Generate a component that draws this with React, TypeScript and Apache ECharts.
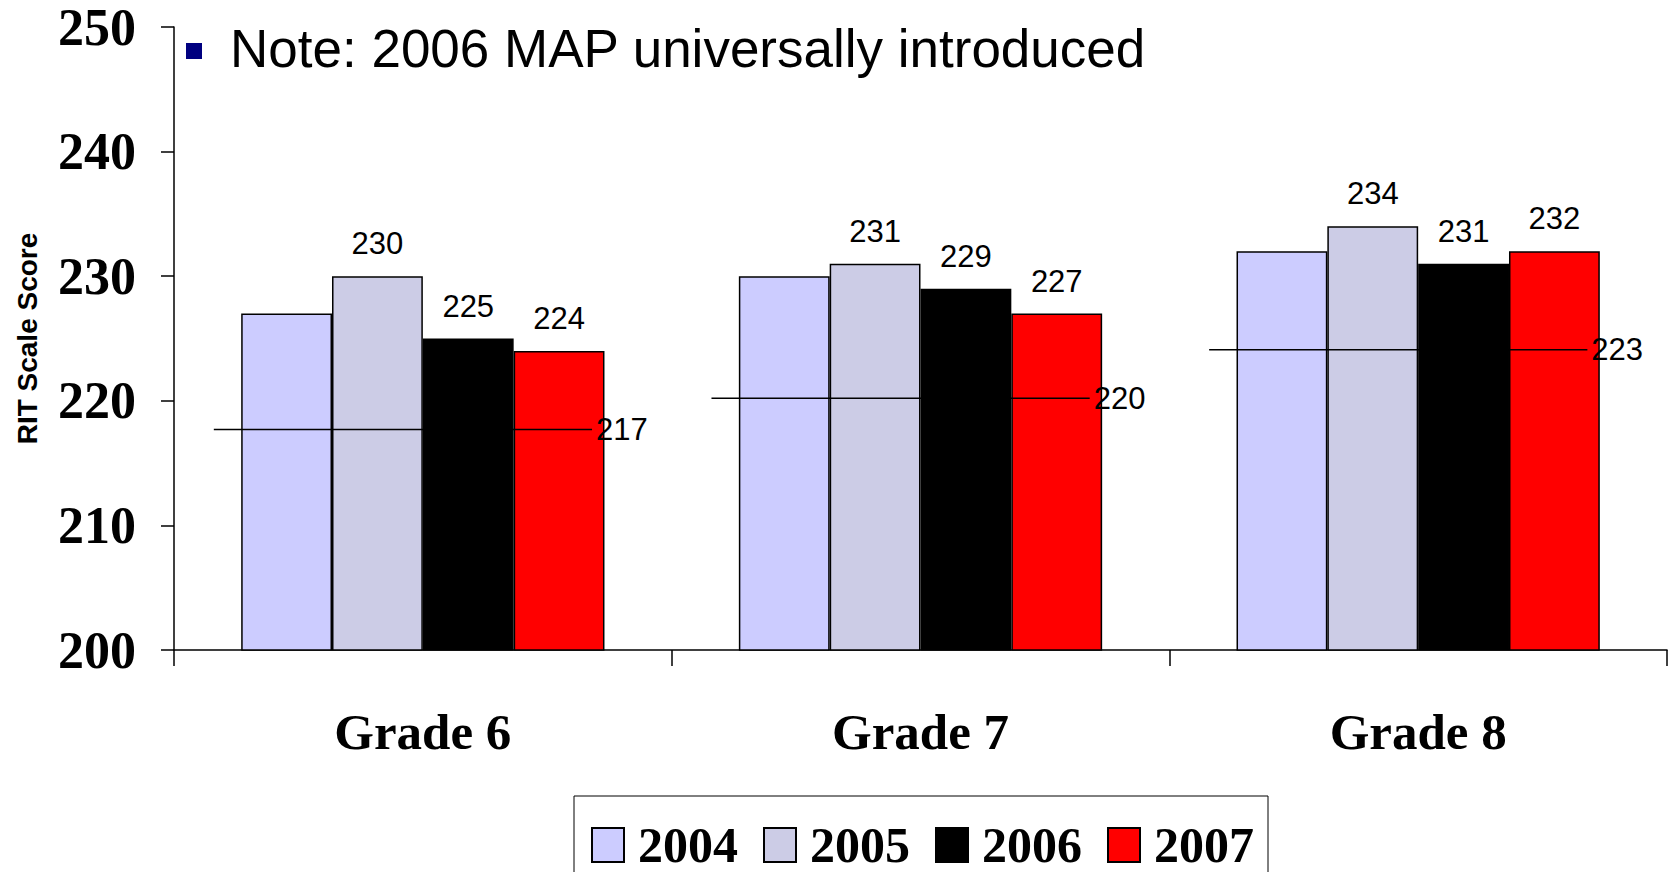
import React, { useEffect, useRef } from "react";
import * as echarts from "echarts";

const categories = ["Grade 6", "Grade 7", "Grade 8"];
const years = ["2004", "2005", "2006", "2007"];
const scores2004 = [227, 230, 232];
const scores2005 = [230, 231, 234];
const scores2006 = [225, 229, 231];
const scores2007 = [224, 227, 232];
const yearColors = ["#CCCCFF", "#CCCCE6", "#000000", "#FF0000"];
const showValueLabel = [false, true, true, true];
const normLevels = [217.7, 220.2, 224.1];
const normLabels = ["217", "220", "223"];
const noteText = "Note: 2006 MAP universally introduced";
const yAxisName = "RIT Scale Score";

const serif = '"Liberation Serif", "Times New Roman", serif';
const sans = '"Liberation Sans", Arial, sans-serif';

export default function App() {
  const ref = useRef<HTMLDivElement>(null);
  useEffect(() => {
    if (!ref.current) return;
    const chart = echarts.init(ref.current, undefined, { renderer: "svg" });
    const allScores = [scores2004, scores2005, scores2006, scores2007];
    const barSeries = years.map((y, i) => ({
      name: y,
      type: "bar",
      data: allScores[i],
      barGap: "0%",
      barCategoryGap: "27%",
      itemStyle: { color: yearColors[i], borderColor: "#000", borderWidth: 1.5 },
      label: {
        show: showValueLabel[i],
        position: "top",
        distance: 17,
        color: "#000",
        fontFamily: sans,
        fontSize: 31,
      },
      z: 2,
    }));
    const normSeries = {
      type: "custom",
      coordinateSystem: "cartesian2d",
      encode: { x: 0, y: 1 },
      data: normLevels.map((v, i) => [i, v]),
      z: 5,
      clip: false,
      renderItem: (params: any, api: any) => {
        const idx = params.dataIndex;
        const c = api.coord([api.value(0), api.value(1)]);
        const bw = api.size([1, 0])[0];
        const x1 = c[0] - 0.42 * bw;
        const x2 = c[0] + 0.34 * bw;
        return {
          type: "group",
          children: [
            {
              type: "line",
              shape: { x1, y1: c[1], x2, y2: c[1] },
              style: { stroke: "#000", lineWidth: 1.5 },
            },
            {
              type: "text",
              x: x2 + 4,
              y: c[1],
              style: {
                text: normLabels[idx],
                fill: "#000",
                fontFamily: sans,
                fontSize: 31,
                align: "left",
                verticalAlign: "middle",
              },
            },
          ],
        };
      },
    };
    chart.setOption({
      animation: false,
      backgroundColor: "#fff",
      grid: { left: 174, right: 8, top: 27, bottom: 222 },
      legend: {
        data: years,
        left: 574,
        top: 796,
        orient: "horizontal",
        borderColor: "#000",
        borderWidth: 1,
        padding: [24, 14, 20, 17],
        itemWidth: 32,
        itemHeight: 34,
        itemGap: 25,
        icon: "rect",
        textStyle: {
          fontFamily: serif,
          fontWeight: "bold",
          fontSize: 50,
          color: "#000",
          padding: [0, 0, 0, 9],
        },
      },
      graphic: [
        {
          type: "rect",
          shape: { x: 186, y: 43, width: 16, height: 16 },
          style: { fill: "#000080" },
        },
        {
          type: "text",
          x: 230,
          y: 48,
          style: {
            text: noteText,
            fill: "#000",
            fontFamily: sans,
            fontSize: 53,
            verticalAlign: "middle",
            align: "left",
          },
        },
      ],
      xAxis: {
        type: "category",
        data: categories,
        axisLine: { lineStyle: { color: "#000", width: 1.5 } },
        axisTick: { show: true, length: 16, lineStyle: { color: "#000", width: 1.5 } },
        axisLabel: {
          color: "#000",
          fontFamily: serif,
          fontWeight: "bold",
          fontSize: 51,
          margin: 56,
        },
      },
      yAxis: {
        type: "value",
        min: 200,
        max: 250,
        interval: 10,
        name: yAxisName,
        nameLocation: "middle",
        nameGap: 133,
        nameRotate: 90,
        nameTextStyle: { color: "#000", fontFamily: sans, fontWeight: "bold", fontSize: 28 },
        splitLine: { show: false },
        axisLine: { show: true, lineStyle: { color: "#000", width: 1.5 } },
        axisTick: { show: true, length: 13, lineStyle: { color: "#000", width: 1.5 } },
        axisLabel: {
          color: "#000",
          fontFamily: serif,
          fontWeight: "bold",
          fontSize: 52,
          margin: 38,
        },
      },
      series: [...barSeries, normSeries],
    });
    return () => chart.dispose();
  }, []);
  return (
    <div
      ref={ref}
      style={{ position: "fixed", left: 0, top: 0, width: 1675, height: 872 }}
    />
  );
}
